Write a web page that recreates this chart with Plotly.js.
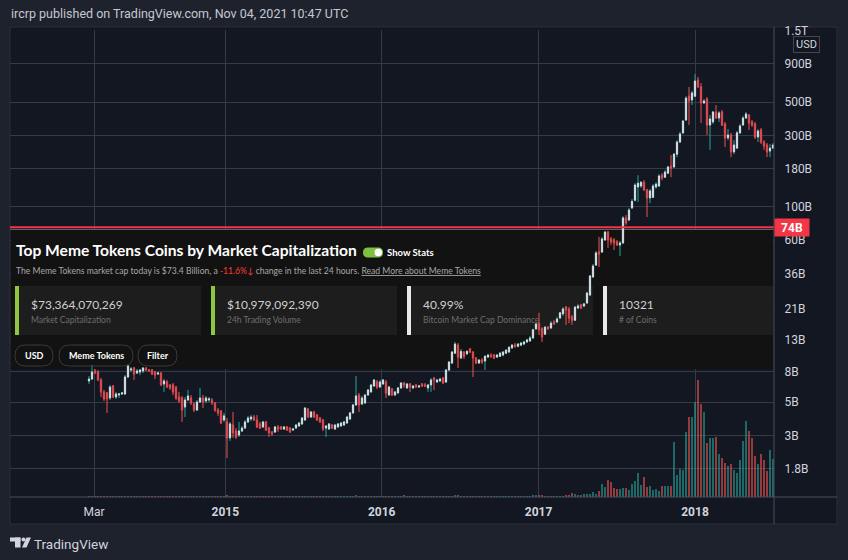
<!DOCTYPE html>
<html><head><meta charset="utf-8">
<script src="https://cdn.plot.ly/plotly-3.0.1.min.js"></script>
<style>html,body{margin:0;padding:0;background:#1e222d;overflow:hidden}#chart{width:848px;height:560px}</style>
</head><body><div id="chart"></div>
<script>
// ---------- DATA (weekly TOTAL market cap, billions USD) ----------
const weekStart = '2014-02-17';
const openB = [
6.92,7.13,8.07,7.94,7.03,5.85,5.76,5.33,6.41,5.41,
5.58,5.67,5.67,7.36,8.19,8.45,7.82,7.94,8.07,8.45,
8.19,8.19,7.94,7.70,7.82,6.61,6.81,6.51,6.51,6.31,
5.41,5.33,4.64,5.17,5.33,4.86,4.43,5.01,5.33,5.09,
5.17,5.17,4.94,4.43,4.37,3.80,3.69,2.89,3.52,3.21,
3.02,3.21,3.36,3.69,3.86,3.98,3.80,3.58,3.42,3.69,
3.36,3.16,3.16,3.42,3.42,3.31,3.42,3.36,3.26,3.36,
3.47,3.58,3.80,4.50,3.98,4.30,4.11,3.92,3.80,3.36,
3.31,3.52,3.31,3.42,3.47,3.52,3.63,3.86,4.24,4.79,
5.58,4.86,4.94,5.58,5.85,6.41,6.81,6.31,6.61,6.81,
5.58,6.12,5.58,5.76,6.22,6.71,6.22,6.61,6.22,6.51,
6.31,6.61,6.51,6.22,6.51,7.24,6.81,6.92,7.24,6.81,
8.19,9.12,10.6,12.0,9.84,10.8,10.5,11.3,10.8,9.84,
9.12,9.55,9.40,9.99,10.3,10.3,9.99,10.1,10.3,10.6,
10.8,11.5,12.0,11.8,12.0,12.2,12.6,12.8,13.4,15.4,
16.8,15.4,14.2,15.8,15.6,17.1,17.1,18.2,19.4,21.5,
20.9,18.5,17.6,21.2,22.2,21.9,22.9,25.9,34.2,41.0,
50.1,50.1,60.3,68.1,61.2,60.3,58.5,55.8,57.6,84.5,
81.9,98.5,111,136,138,146,130,115,116,136,
138,163,158,168,187,185,225,271,312,380,
548,517,548,702,632,494,524,352,369,430,
392,430,358,289,302,233,247,312,352,392,
410,369,358,293,326,271,259,236,247];
const highB = [
7.47,8.85,8.32,8.19,7.24,6.03,5.85,6.51,6.51,5.85,
5.76,5.85,7.59,8.98,8.58,8.58,8.32,8.32,8.58,8.58,
8.32,8.32,8.07,7.94,7.94,7.13,7.03,6.61,6.71,6.41,
5.85,5.50,5.41,6.03,5.58,5.01,5.17,6.22,5.58,5.50,
5.41,5.33,5.01,4.57,4.43,4.24,3.92,3.69,4.30,3.36,
3.69,3.47,3.80,4.05,4.11,4.11,4.11,3.69,3.75,3.75,
3.42,3.21,3.47,3.52,3.47,3.47,3.47,3.42,3.36,3.58,
3.69,3.98,4.64,4.57,4.37,4.37,4.17,3.98,3.86,3.52,
3.63,3.58,3.58,3.63,3.69,3.75,4.05,4.30,4.86,7.47,
5.76,5.50,5.67,6.12,6.61,7.13,7.03,7.03,7.13,7.03,
6.41,6.22,5.94,6.31,6.81,6.81,6.71,6.71,6.51,6.61,
6.51,6.71,6.71,6.61,7.24,7.36,7.13,7.24,7.36,8.32,
9.40,10.9,12.6,12.4,11.3,10.9,11.1,11.5,10.9,9.99,
9.69,9.84,10.3,10.5,10.6,10.5,10.5,10.8,10.9,11.3,
11.8,12.2,12.4,12.4,12.6,12.8,13.2,13.8,15.4,16.8,
19.7,15.8,16.1,16.1,17.4,17.6,18.5,20.0,21.5,21.9,
21.5,19.1,21.9,22.6,22.6,22.9,27.1,35.2,41.7,50.9,
63.1,63.1,69.2,69.2,63.1,62.2,60.3,59.4,87.1,88.4,
98.5,113,144,163,149,151,132,132,142,146,
166,168,176,187,222,229,279,317,380,548,
632,594,770,736,671,524,540,410,437,478,
437,443,369,331,312,279,321,358,404,430,
417,380,369,331,336,279,267,263,267];
const lowB = [
6.61,7.03,7.70,6.92,5.41,5.09,4.24,5.17,5.33,5.25,
5.33,5.58,5.58,7.24,7.94,7.03,7.70,7.59,7.82,8.07,
7.94,7.59,7.13,7.59,6.41,5.85,6.22,6.03,5.58,5.17,
4.94,3.69,3.98,5.09,4.79,4.30,4.37,4.94,4.57,4.94,
5.01,4.79,4.30,4.05,3.58,3.69,2.12,2.76,2.89,2.84,
2.93,3.16,3.31,3.63,3.75,3.75,3.36,3.31,3.36,3.21,
2.93,2.98,3.12,3.16,3.26,3.26,3.21,3.12,3.21,3.31,
3.42,3.52,3.75,3.92,3.92,3.92,3.75,3.63,3.21,2.93,
3.26,3.31,3.26,3.36,3.42,3.47,3.58,3.80,4.17,4.72,
4.30,4.79,4.86,5.50,5.76,6.31,6.12,6.22,6.51,5.33,
5.50,5.50,5.50,5.67,6.12,6.22,6.12,5.85,6.12,6.22,
6.22,6.31,6.31,5.85,5.85,6.03,6.71,6.81,6.61,6.71,
8.07,8.98,10.5,8.45,9.69,9.69,10.3,10.6,7.36,8.98,
8.98,8.98,8.19,9.84,9.84,9.69,9.84,9.99,10.1,10.5,
10.6,11.3,11.5,11.6,11.8,12.0,12.4,12.6,13.2,15.2,
14.0,12.6,14.0,15.2,15.4,16.4,16.8,17.9,18.8,16.4,
16.8,16.4,17.4,20.9,20.9,21.5,22.6,25.5,33.6,40.4,
39.8,49.4,59.4,53.3,55.8,51.7,55.0,47.2,56.7,75.9,
80.6,97.0,109,108,134,128,85.8,106,115,132,
136,151,156,166,158,182,215,267,307,374,
352,478,540,622,363,486,302,240,358,386,
369,347,251,279,215,225,243,307,347,386,
326,342,284,271,263,240,215,215,243];
const closeB = [
7.13,7.94,7.82,7.03,5.85,5.25,5.25,6.31,5.41,5.67,
5.67,5.76,7.36,8.71,8.32,7.70,8.07,8.19,8.45,8.19,
8.07,7.70,7.59,7.82,6.51,6.92,6.31,6.22,5.85,5.33,
5.09,4.43,5.17,5.50,4.94,4.43,5.01,5.33,5.01,5.33,
5.25,4.94,4.43,4.24,3.63,4.05,2.89,3.58,3.12,2.93,
3.21,3.36,3.69,3.92,3.98,3.80,3.42,3.36,3.69,3.26,
3.12,3.07,3.42,3.31,3.31,3.42,3.26,3.16,3.31,3.52,
3.63,3.92,4.57,3.98,4.30,3.98,3.80,3.69,3.31,3.47,
3.58,3.36,3.52,3.58,3.63,3.69,3.98,4.24,4.79,5.50,
4.79,5.33,5.58,6.03,6.51,7.03,6.31,6.81,7.03,5.76,
6.31,5.58,5.85,6.22,6.71,6.51,6.61,6.31,6.41,6.31,
6.41,6.41,6.41,6.51,7.03,7.03,7.03,7.13,6.71,8.19,
9.26,10.8,12.2,9.99,10.9,10.1,10.9,10.8,9.84,9.12,
9.55,9.26,10.1,10.3,10.1,9.84,10.3,10.6,10.8,11.1,
11.6,12.0,11.8,12.2,12.4,12.6,13.0,13.4,15.2,16.6,
15.2,13.6,15.8,15.4,16.8,16.6,17.9,19.7,20.9,20.6,
18.2,17.6,21.5,21.9,21.2,22.6,26.7,34.7,40.4,49.4,
48.6,61.2,68.1,60.3,58.5,57.6,55.8,57.6,84.5,78.2,
95.5,109,140,144,146,130,115,128,138,142,
161,156,171,185,182,225,271,307,374,532,
509,576,691,632,494,509,352,386,430,392,
424,352,289,302,233,259,312,347,392,417,
363,352,293,321,271,255,233,247,259];
const volumeB = [
2.5,3,2.5,2.5,3,3,3.5,2.5,2.5,2,
2,2,3,3,2.5,2.5,2,2,2,2,
2,2,2,2,2.5,2.5,2,2,2.5,2.5,
2.5,3,3,2.5,2.5,2.5,2.5,3,2.5,2,
2,2,2.5,2.5,3,2.5,4,3.5,3,2.5,
2.5,2,2,2.5,2,2,2.5,2.5,2,2,
2.5,2,2,2,2,2,2,2,2,2,
2,2.5,3,2.5,2,2,2,2,2.5,2.5,
2,2,2,2,2,2,2,2.5,2.5,4,
3,2.5,2.5,2.5,2.5,3,3,2.5,2.5,3,
2.5,2.5,2,2,2.5,4,2,2,2,2,
2,2,2,2,2.5,2.5,2,2,2,3,
3,3.5,4,4,3,2.5,2.5,2.5,3.5,3,
2.5,2.5,2.5,2.5,2.5,2.5,2.5,2.5,2.5,2.5,
2.5,2.5,2.5,2.5,2.5,3,3,3,4,4,
5,4,3,2.5,3,2.5,2.5,3,3,5,
5,10,7.5,5,5,7.5,7.5,8,12.5,8,
15,32,25,42,37,22,20,20,22,22,
17,32,40,60,30,50,25,27,17,20,
15,27,27,27,27,137,55,70,67,162,
200,200,237,292,232,212,135,147,147,150,
107,97,85,77,82,67,60,92,140,190,
165,147,102,82,107,92,65,117,95];
const lastPrice = 73.4;
const yTickVals = [1.8,3,5,8,13,21,36,60,100,180,300,500,900,1500];
const yTickText = ['1.8B','3B','5B','8B','13B','21B','36B','60B','100B','180B','300B','500B','900B','1.5T'];
const xTickVals = ['2014-03-01','2015-01-01','2016-01-01','2017-01-01','2018-01-01'];
const xTickText = ['Mar','<b>2015</b>','<b>2016</b>','<b>2017</b>','<b>2018</b>'];
const statValues = ['$73,364,070,269','$10,979,092,390','40.99%','10321'];
const statLabels = ['Market Capitalization','24h Trading Volume','Bitcoin Market Cap Dominance','# of Coins'];
const capToday = '$73.4 Billion';
const change24h = '-11.6%';
const filterButtons = ['USD','Meme Tokens','Filter'];

// ---------- GEOMETRY ----------
const W = 848, H = 560, L = 10, R = 774, T = 30, B = 497;
const xRange = ['2013-08-16 16:00', '2018-07-04 08:00'];
const yLog = [Math.log10(1.166), Math.log10(1513)];
const px = x => (x - L) / (R - L);
const py = y => (B - y) / (B - T);
const x0ms = Date.parse('2013-08-16T16:00:00Z'), x1ms = Date.parse('2018-07-04T08:00:00Z');
const xd = x => new Date(x0ms + (x - L) / (R - L) * (x1ms - x0ms)).toISOString().slice(0, 19).replace('T', ' ');
const yd = y => Math.pow(10, yLog[1] - (y - T) / (B - T) * (yLog[1] - yLog[0]));

const dates = openB.map((_, i) => new Date(Date.parse(weekStart + 'T00:00:00Z') + i * 7 * 864e5).toISOString().slice(0, 10));
const bodyHigh = openB.map((o, i) => Math.max(o, closeB[i]));
const bodyLow = openB.map((o, i) => Math.min(o, closeB[i]));
const volColors = openB.map((o, i) => closeB[i] >= o ? 'rgba(38,166,154,0.58)' : 'rgba(239,83,80,0.6)');

const UP = '#26a69a', DN = '#ef5350';
const traces = [
  { type: 'bar', x: dates, y: volumeB, yaxis: 'y2', marker: { color: volColors, line: { width: 0 } },
    width: 7 * 864e5 * 0.64, hoverinfo: 'skip' },
  { type: 'candlestick', x: dates, open: openB, high: highB, low: lowB, close: closeB,
    increasing: { line: { color: UP, width: 1 }, fillcolor: UP },
    decreasing: { line: { color: DN, width: 1 }, fillcolor: DN },
    whiskerwidth: 0, hoverinfo: 'skip' },
  { type: 'candlestick', x: dates, open: openB, high: bodyHigh, low: bodyLow, close: closeB,
    increasing: { line: { color: '#d6d9e0', width: 1 }, fillcolor: '#d6d9e0' },
    decreasing: { line: { color: '#d9474d', width: 1 }, fillcolor: '#9c7d82' },
    whiskerwidth: 0, hoverinfo: 'skip' }
];

function P(x, y) { return px(x).toFixed(5) + ',' + py(y).toFixed(5); }
function pill(x0, y0, x1, y1, r) {
  return 'M' + P(x0 + r, y0) + ' L' + P(x1 - r, y0) + ' Q' + P(x1, y0) + ' ' + P(x1, y0 + r) +
    ' L' + P(x1, y1 - r) + ' Q' + P(x1, y1) + ' ' + P(x1 - r, y1) + ' L' + P(x0 + r, y1) +
    ' Q' + P(x0, y1) + ' ' + P(x0, y1 - r) + ' L' + P(x0, y0 + r) + ' Q' + P(x0, y0) + ' ' + P(x0 + r, y0) + ' Z';
}
function prect(x0, y0, x1, y1, fill, layer, line) {
  return { type: 'rect', xref: 'paper', yref: 'paper', x0: px(x0), x1: px(x1), y0: py(y1), y1: py(y0),
    fillcolor: fill, line: line || { width: 0 }, layer: layer || 'above' };
}
function drect(x0, y0, x1, y1, fill) {
  return { type: 'rect', xref: 'x', yref: 'y', x0: xd(x0), x1: xd(x1), y0: yd(y1), y1: yd(y0),
    fillcolor: fill, line: { width: 0 }, layer: 'between' };
}

const shapes = [];
// chart container
shapes.push(prect(10, 27, 837, 524, '#131722', 'below', { color: '#2a2e39', width: 1 }));
// overlay widget panel (below candles, above grid)
shapes.push(drect(11, 229.5, 773, 369, '#121212'));
shapes.push({ type: 'line', xref: 'x', yref: 'y', x0: xd(10), x1: xd(774), y0: yd(229.5), y1: yd(229.5),
  line: { color: '#5d606b', width: 1 }, layer: 'between' });
const cardX = [15, 211, 407, 603];
const accent = ['#8dc63f', '#8dc63f', '#e8e8e8', '#e8e8e8'];
cardX.forEach((x, k) => {
  shapes.push(drect(x, 286, Math.min(x + 186, 773), 335, '#1d1d1d'));
  shapes.push(drect(x, 286, x + 4, 335, accent[k]));
});
// price line
shapes.push({ type: 'line', xref: 'paper', yref: 'y', x0: 0, x1: 1, y0: lastPrice, y1: lastPrice,
  line: { color: '#f23645', width: 2 }, layer: 'above' });
// scale borders
shapes.push({ type: 'line', xref: 'paper', yref: 'paper', x0: px(774), x1: px(774), y0: py(524), y1: py(27),
  line: { color: '#4a4e5a', width: 1 }, layer: 'above' });
shapes.push({ type: 'line', xref: 'paper', yref: 'paper', x0: px(10), x1: px(837), y0: py(497), y1: py(497),
  line: { color: '#4a4e5a', width: 1 }, layer: 'above' });
// toggle switch
shapes.push({ type: 'path', xref: 'paper', yref: 'paper', path: pill(363, 247.5, 383, 257.5, 5),
  fillcolor: '#7cc142', line: { width: 0 }, layer: 'above' });
shapes.push({ type: 'circle', xref: 'paper', yref: 'paper', x0: px(374.5), x1: px(382), y0: py(256.2), y1: py(248.8),
  fillcolor: '#ffffff', line: { width: 0 }, layer: 'above' });
// filter pills
const pillX = [[15, 53], [59, 133], [138, 177]];
pillX.forEach(p => shapes.push({ type: 'path', xref: 'paper', yref: 'paper', path: pill(p[0], 345, p[1], 366, 10.5),
  fillcolor: 'rgba(0,0,0,0)', line: { color: '#3a3a3a', width: 1 }, layer: 'above' }));
// TradingView logo
shapes.push(prect(10, 537.5, 20.5, 541.5, '#d1d4dc'));
shapes.push(prect(15, 537.5, 20.5, 547.5, '#d1d4dc'));
shapes.push({ type: 'circle', xref: 'paper', yref: 'paper', x0: px(21.5), x1: px(25.5), y0: py(541.5), y1: py(537.5),
  fillcolor: '#d1d4dc', line: { width: 0 }, layer: 'above' });
shapes.push({ type: 'path', xref: 'paper', yref: 'paper',
  path: 'M' + P(26.5, 537.5) + ' L' + P(31, 537.5) + ' L' + P(26.5, 547.5) + ' L' + P(22, 547.5) + ' Z',
  fillcolor: '#d1d4dc', line: { width: 0 }, layer: 'above' });

const SANS = 'Lato, "Noto Sans", sans-serif';
const TVF = 'Roboto, "Liberation Sans", sans-serif';
function txt(x, y, text, size, color, extra) {
  return Object.assign({ xref: 'paper', yref: 'paper', x: px(x), y: py(y), xanchor: 'left', yanchor: 'middle',
    text: text, showarrow: false, borderpad: 0, font: { family: SANS, size: size, color: color } }, extra || {});
}
const annotations = [
  txt(10, 14, 'ircrp published on TradingView.com, Nov 04, 2021 10:47 UTC', 12.5, '#c5c8d0', { font: { family: TVF, size: 12.5, color: '#c5c8d0' } }),
  txt(15, 250, '<b>Top Meme Tokens Coins by Market Capitalization</b>', 15.6, '#ffffff'),
  txt(386, 252.5, '<b>Show Stats</b>', 9.5, '#ffffff'),
  txt(15, 271, 'The Meme Tokens market cap today is ' + capToday + ', a <span style="color:#ff3b30">' + change24h +
    '↓</span> change in the last 24 hours. <u>Read More about Meme Tokens</u>', 8.6, '#a8a8a8'),
  txt(33, 544, 'TradingView', 13.5, '#d1d4dc', { font: { family: TVF, size: 13.5, color: '#d1d4dc' } }),
  { xref: 'paper', yref: 'paper', x: px(774), y: py(227.5), xanchor: 'left', yanchor: 'middle', showarrow: false,
    text: '<b>74B</b>', bgcolor: '#f23645', width: 34, height: 17, borderpad: 0,
    font: { family: TVF, size: 12, color: '#ffffff' } },
  { xref: 'paper', yref: 'paper', x: px(806), y: py(44), xanchor: 'center', yanchor: 'middle', showarrow: false,
    text: 'USD', bgcolor: '#131722', bordercolor: '#434651', borderwidth: 1, borderpad: 2, width: 21, height: 11,
    font: { family: TVF, size: 11, color: '#d1d4dc' } }
];
cardX.forEach((x, k) => {
  annotations.push(txt(x + 15, 304, statValues[k], 12, '#d0d0d0'));
  annotations.push(txt(x + 15, 319.5, statLabels[k], 8.5, '#6e6e6e'));
});
pillX.forEach((p, k) => annotations.push(txt((p[0] + p[1]) / 2, 355.5, '<b>' + filterButtons[k] + '</b>', 9, '#ffffff', { xanchor: 'center' })));

const axFont = { family: TVF, size: 12, color: '#d1d4dc' };
const layout = {
  width: W, height: H,
  margin: { l: L, r: W - R, t: T, b: H - B, pad: 0 },
  paper_bgcolor: '#1e222d', plot_bgcolor: '#131722',
  showlegend: false, hovermode: false, dragmode: false,
  boxmode: 'overlay', boxgap: 0.45, bargap: 0,
  xaxis: { type: 'date', range: xRange, tickmode: 'array', tickvals: xTickVals, ticktext: xTickText,
    ticks: 'outside', ticklen: 4, tickcolor: 'rgba(0,0,0,0)', showgrid: true, gridcolor: '#363a45', gridwidth: 1,
    zeroline: false, showline: false, rangeslider: { visible: false }, tickfont: axFont, fixedrange: true },
  yaxis: { type: 'log', range: yLog, side: 'right', tickmode: 'array', tickvals: yTickVals, ticktext: yTickText,
    ticks: 'outside', ticklen: 7, tickcolor: 'rgba(0,0,0,0)', showgrid: true, gridcolor: '#363a45', gridwidth: 1,
    zeroline: false, showline: false, tickfont: axFont, fixedrange: true },
  yaxis2: { overlaying: 'y', range: [0, 1168], visible: false, showgrid: false, fixedrange: true },
  shapes: shapes, annotations: annotations
};
Plotly.newPlot('chart', traces, layout, { staticPlot: true, displayModeBar: false });
</script></body></html>
